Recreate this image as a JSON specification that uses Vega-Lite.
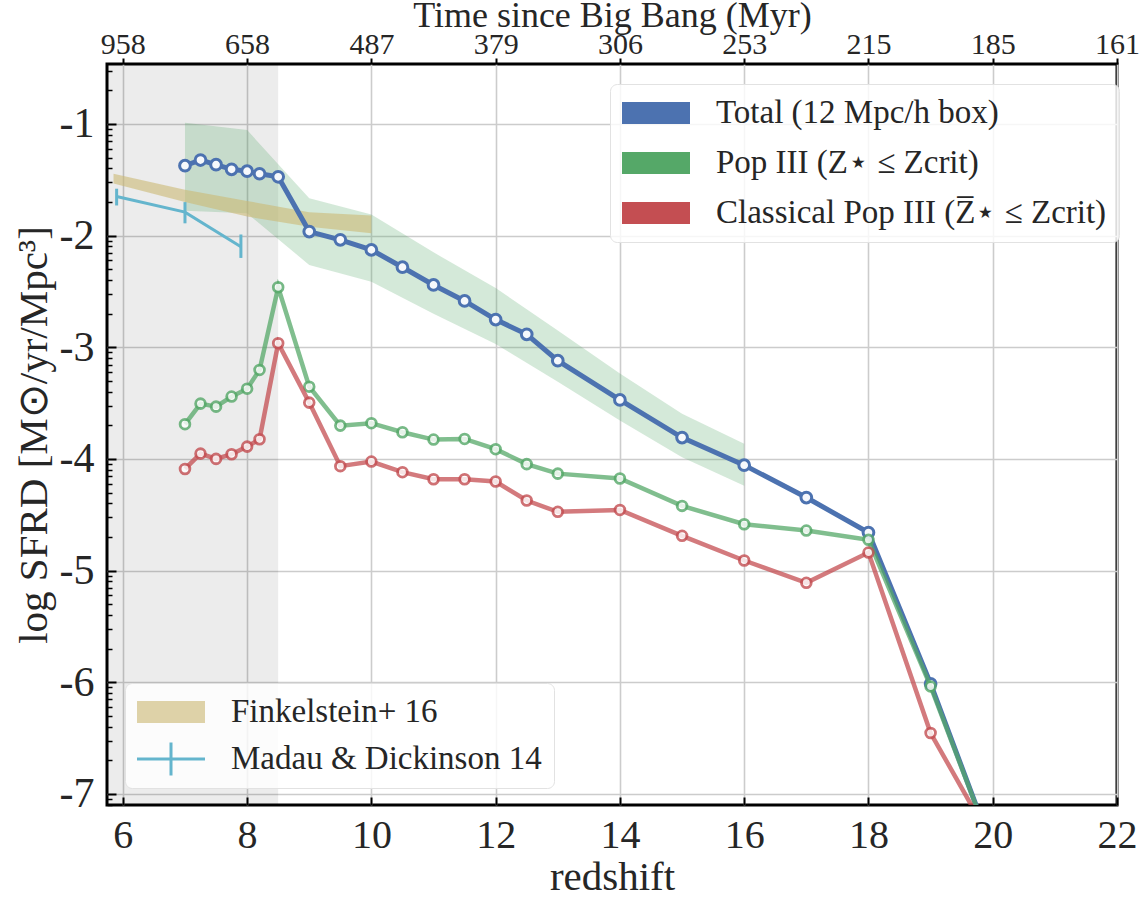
{
  "$schema": "https://vega.github.io/schema/vega-lite/v6.json",
  "width": 1010,
  "height": 741,
  "autosize": {"type": "none"},
  "padding": {"left": 107, "top": 64, "right": 29, "bottom": 94},
  "background": "white",
  "config": {
    "font": "Liberation Serif",
    "view": {"stroke": "#000000", "strokeWidth": 3},
    "style": {"guide-label": {"font": "Liberation Serif"}, "guide-title": {"font": "Liberation Serif"}},
    "axis": {
      "labelFont": "Liberation Serif",
      "titleFont": "Liberation Serif",
      "labelColor": "#262626",
      "titleColor": "#262626",
      "titleFontWeight": "normal",
      "gridColor": "#cccccc",
      "gridWidth": 1.6,
      "domain": false,
      "tickColor": "#000000",
      "tickWidth": 2,
      "labelFlush": false,
      "labelOverlap": false
    },
    "legend": {
      "labelFont": "Liberation Serif",
      "labelFontSize": 33,
      "labelColor": "#262626",
      "fillColor": "rgba(255,255,255,0.82)",
      "strokeColor": "#e2e2e2",
      "cornerRadius": 7,
      "padding": 12,
      "symbolOpacity": 1,
      "symbolStrokeWidth": 0,
      "labelLimit": 600
    }
  },
  "datasets": {
    "shade": [{"start": 5.5, "end": 8.5}],
    "band": [
      {"z": 7, "lo": -1.777, "hi": -0.989},
      {"z": 8, "lo": -1.80, "hi": -1.055},
      {"z": 9, "lo": -2.263, "hi": -1.666},
      {"z": 10, "lo": -2.413, "hi": -1.81},
      {"z": 11, "lo": -2.70, "hi": -2.15},
      {"z": 12, "lo": -2.97, "hi": -2.47},
      {"z": 13, "lo": -3.31, "hi": -2.85},
      {"z": 14, "lo": -3.655, "hi": -3.235},
      {"z": 15, "lo": -3.986, "hi": -3.595},
      {"z": 16, "lo": -4.24, "hi": -3.865}
    ],
    "obs": [
      {"obs": "Finkelstein+ 16", "z": 5.85, "lo": -1.534, "hi": -1.445, "sfrd": null},
      {"obs": "Finkelstein+ 16", "z": 7, "lo": -1.70, "hi": -1.59, "sfrd": null},
      {"obs": "Finkelstein+ 16", "z": 8, "lo": -1.83, "hi": -1.69, "sfrd": null},
      {"obs": "Finkelstein+ 16", "z": 9, "lo": -1.92, "hi": -1.79, "sfrd": null},
      {"obs": "Finkelstein+ 16", "z": 10, "lo": -1.98, "hi": -1.82, "sfrd": null},
      {"obs": "Madau & Dickinson 14", "z": 5.9, "lo": -1.73, "hi": -1.58, "sfrd": -1.65},
      {"obs": "Madau & Dickinson 14", "z": 7.0, "lo": -1.89, "hi": -1.70, "sfrd": -1.79},
      {"obs": "Madau & Dickinson 14", "z": 7.9, "lo": -2.20, "hi": -1.99, "sfrd": -2.10}
    ],
    "sims": [
      {"series": "Total (12 Mpc/h box)", "z": 7, "sfrd": -1.374},
      {"series": "Total (12 Mpc/h box)", "z": 7.25, "sfrd": -1.323},
      {"series": "Total (12 Mpc/h box)", "z": 7.5, "sfrd": -1.365},
      {"series": "Total (12 Mpc/h box)", "z": 7.75, "sfrd": -1.406},
      {"series": "Total (12 Mpc/h box)", "z": 8, "sfrd": -1.423},
      {"series": "Total (12 Mpc/h box)", "z": 8.2, "sfrd": -1.446},
      {"series": "Total (12 Mpc/h box)", "z": 8.5, "sfrd": -1.473},
      {"series": "Total (12 Mpc/h box)", "z": 9, "sfrd": -1.964},
      {"series": "Total (12 Mpc/h box)", "z": 9.5, "sfrd": -2.038},
      {"series": "Total (12 Mpc/h box)", "z": 10, "sfrd": -2.128},
      {"series": "Total (12 Mpc/h box)", "z": 10.5, "sfrd": -2.283},
      {"series": "Total (12 Mpc/h box)", "z": 11, "sfrd": -2.442},
      {"series": "Total (12 Mpc/h box)", "z": 11.5, "sfrd": -2.585},
      {"series": "Total (12 Mpc/h box)", "z": 12, "sfrd": -2.752},
      {"series": "Total (12 Mpc/h box)", "z": 12.5, "sfrd": -2.884},
      {"series": "Total (12 Mpc/h box)", "z": 13, "sfrd": -3.12},
      {"series": "Total (12 Mpc/h box)", "z": 14, "sfrd": -3.472},
      {"series": "Total (12 Mpc/h box)", "z": 15, "sfrd": -3.809},
      {"series": "Total (12 Mpc/h box)", "z": 16, "sfrd": -4.056},
      {"series": "Total (12 Mpc/h box)", "z": 17, "sfrd": -4.346},
      {"series": "Total (12 Mpc/h box)", "z": 18, "sfrd": -4.66},
      {"series": "Total (12 Mpc/h box)", "z": 19, "sfrd": -6.014},
      {"series": "Total (12 Mpc/h box)", "z": 20, "sfrd": -7.5},
      {"series": "Pop III (Z⋆ ≤ Zcrit)", "z": 7, "sfrd": -3.689},
      {"series": "Pop III (Z⋆ ≤ Zcrit)", "z": 7.25, "sfrd": -3.505},
      {"series": "Pop III (Z⋆ ≤ Zcrit)", "z": 7.5, "sfrd": -3.532},
      {"series": "Pop III (Z⋆ ≤ Zcrit)", "z": 7.75, "sfrd": -3.442},
      {"series": "Pop III (Z⋆ ≤ Zcrit)", "z": 8, "sfrd": -3.371},
      {"series": "Pop III (Z⋆ ≤ Zcrit)", "z": 8.2, "sfrd": -3.203},
      {"series": "Pop III (Z⋆ ≤ Zcrit)", "z": 8.5, "sfrd": -2.463},
      {"series": "Pop III (Z⋆ ≤ Zcrit)", "z": 9, "sfrd": -3.353},
      {"series": "Pop III (Z⋆ ≤ Zcrit)", "z": 9.5, "sfrd": -3.702},
      {"series": "Pop III (Z⋆ ≤ Zcrit)", "z": 10, "sfrd": -3.68},
      {"series": "Pop III (Z⋆ ≤ Zcrit)", "z": 10.5, "sfrd": -3.761},
      {"series": "Pop III (Z⋆ ≤ Zcrit)", "z": 11, "sfrd": -3.827},
      {"series": "Pop III (Z⋆ ≤ Zcrit)", "z": 11.5, "sfrd": -3.821},
      {"series": "Pop III (Z⋆ ≤ Zcrit)", "z": 12, "sfrd": -3.913},
      {"series": "Pop III (Z⋆ ≤ Zcrit)", "z": 12.5, "sfrd": -4.047},
      {"series": "Pop III (Z⋆ ≤ Zcrit)", "z": 13, "sfrd": -4.132},
      {"series": "Pop III (Z⋆ ≤ Zcrit)", "z": 14, "sfrd": -4.176},
      {"series": "Pop III (Z⋆ ≤ Zcrit)", "z": 15, "sfrd": -4.421},
      {"series": "Pop III (Z⋆ ≤ Zcrit)", "z": 16, "sfrd": -4.585},
      {"series": "Pop III (Z⋆ ≤ Zcrit)", "z": 17, "sfrd": -4.642},
      {"series": "Pop III (Z⋆ ≤ Zcrit)", "z": 18, "sfrd": -4.725},
      {"series": "Pop III (Z⋆ ≤ Zcrit)", "z": 19, "sfrd": -6.038},
      {"series": "Pop III (Z⋆ ≤ Zcrit)", "z": 20, "sfrd": -7.5},
      {"series": "Classical Pop III (Z̅⋆ ≤ Zcrit)", "z": 7, "sfrd": -4.09},
      {"series": "Classical Pop III (Z̅⋆ ≤ Zcrit)", "z": 7.25, "sfrd": -3.953},
      {"series": "Classical Pop III (Z̅⋆ ≤ Zcrit)", "z": 7.5, "sfrd": -4.0},
      {"series": "Classical Pop III (Z̅⋆ ≤ Zcrit)", "z": 7.75, "sfrd": -3.958},
      {"series": "Classical Pop III (Z̅⋆ ≤ Zcrit)", "z": 8, "sfrd": -3.89},
      {"series": "Classical Pop III (Z̅⋆ ≤ Zcrit)", "z": 8.2, "sfrd": -3.824},
      {"series": "Classical Pop III (Z̅⋆ ≤ Zcrit)", "z": 8.5, "sfrd": -2.964},
      {"series": "Classical Pop III (Z̅⋆ ≤ Zcrit)", "z": 9, "sfrd": -3.496},
      {"series": "Classical Pop III (Z̅⋆ ≤ Zcrit)", "z": 9.5, "sfrd": -4.065},
      {"series": "Classical Pop III (Z̅⋆ ≤ Zcrit)", "z": 10, "sfrd": -4.024},
      {"series": "Classical Pop III (Z̅⋆ ≤ Zcrit)", "z": 10.5, "sfrd": -4.119},
      {"series": "Classical Pop III (Z̅⋆ ≤ Zcrit)", "z": 11, "sfrd": -4.182},
      {"series": "Classical Pop III (Z̅⋆ ≤ Zcrit)", "z": 11.5, "sfrd": -4.182},
      {"series": "Classical Pop III (Z̅⋆ ≤ Zcrit)", "z": 12, "sfrd": -4.203},
      {"series": "Classical Pop III (Z̅⋆ ≤ Zcrit)", "z": 12.5, "sfrd": -4.373},
      {"series": "Classical Pop III (Z̅⋆ ≤ Zcrit)", "z": 13, "sfrd": -4.474},
      {"series": "Classical Pop III (Z̅⋆ ≤ Zcrit)", "z": 14, "sfrd": -4.457},
      {"series": "Classical Pop III (Z̅⋆ ≤ Zcrit)", "z": 15, "sfrd": -4.689},
      {"series": "Classical Pop III (Z̅⋆ ≤ Zcrit)", "z": 16, "sfrd": -4.91},
      {"series": "Classical Pop III (Z̅⋆ ≤ Zcrit)", "z": 17, "sfrd": -5.11},
      {"series": "Classical Pop III (Z̅⋆ ≤ Zcrit)", "z": 18, "sfrd": -4.839},
      {"series": "Classical Pop III (Z̅⋆ ≤ Zcrit)", "z": 19, "sfrd": -6.455},
      {"series": "Classical Pop III (Z̅⋆ ≤ Zcrit)", "z": 20, "sfrd": -7.44}
    ]
  },
  "resolve": {"axis": {"x": "independent", "y": "independent"}},
  "layer": [
    {
      "data": {"name": "shade"},
      "mark": {"type": "rect", "color": "#000000", "opacity": 0.075, "clip": true},
      "encoding": {
        "x": {
          "field": "start", "type": "quantitative",
          "scale": {"domain": [5.745, 22], "nice": false, "zero": false},
          "axis": {
            "orient": "bottom", "values": [6, 8, 10, 12, 14, 16, 18, 20, 22],
            "labelFont": "Liberation Serif", "titleFont": "Liberation Serif",
            "title": "redshift", "titleFontSize": 41, "labelFontSize": 40,
            "tickSize": -8, "labelPadding": 18, "titlePadding": 2, "grid": true
          }
        },
        "x2": {"field": "end"}
      }
    },
    {
      "data": {"name": "band"},
      "mark": {"type": "area", "color": "#55a868", "opacity": 0.25, "clip": true},
      "encoding": {
        "x": {"field": "z", "type": "quantitative", "axis": null},
        "y": {
          "field": "lo", "type": "quantitative",
          "scale": {"domain": [-7.1, -0.463], "nice": false, "zero": false},
          "axis": {
            "orient": "left", "values": [-7, -6, -5, -4, -3, -2, -1],
            "labelExpr": "'-' + abs(datum.value)",
            "labelFont": "Liberation Serif", "titleFont": "Liberation Serif",
            "title": "log SFRD [M⊙/yr/Mpc³]", "titleFontSize": 41, "labelFontSize": 42,
            "tickSize": -9, "labelPadding": 22, "titlePadding": 4, "grid": true
          }
        },
        "y2": {"field": "hi"}
      }
    },
    {
      "data": {"name": "obs"},
      "transform": [{"filter": "datum.obs == 'Finkelstein+ 16'"}],
      "mark": {"type": "area", "color": "#ccb974", "opacity": 0.6, "clip": true},
      "encoding": {
        "x": {"field": "z", "type": "quantitative", "axis": null},
        "y": {"field": "lo", "type": "quantitative", "axis": null},
        "y2": {"field": "hi"}
      }
    },
    {
      "data": {"name": "obs"},
      "transform": [{"filter": "datum.obs == 'Madau & Dickinson 14'"}],
      "mark": {"type": "line", "color": "#64b5cd", "strokeWidth": 3, "clip": true},
      "encoding": {
        "x": {"field": "z", "type": "quantitative", "axis": null},
        "y": {"field": "sfrd", "type": "quantitative", "axis": null}
      }
    },
    {
      "data": {"name": "obs"},
      "transform": [{"filter": "datum.obs == 'Madau & Dickinson 14'"}],
      "mark": {"type": "rule", "color": "#64b5cd", "strokeWidth": 3, "clip": true},
      "encoding": {
        "x": {"field": "z", "type": "quantitative", "axis": null},
        "y": {"field": "lo", "type": "quantitative", "axis": null},
        "y2": {"field": "hi"}
      }
    },
    {
      "data": {"name": "sims"},
      "transform": [{"filter": "datum.series == 'Total (12 Mpc/h box)'"}],
      "mark": {"type": "line", "color": "#4c72b0", "strokeWidth": 5, "clip": true},
      "encoding": {
        "x": {
          "field": "z", "type": "quantitative",
          "axis": {
            "orient": "top", "values": [6, 8, 10, 12, 14, 16, 18, 20, 22],
            "labelExpr": "datum.value == 6 ? '958' : datum.value == 8 ? '658' : datum.value == 10 ? '487' : datum.value == 12 ? '379' : datum.value == 14 ? '306' : datum.value == 16 ? '253' : datum.value == 18 ? '215' : datum.value == 20 ? '185' : '161'",
            "labelFont": "Liberation Serif", "titleFont": "Liberation Serif",
            "title": "Time since Big Bang (Myr)", "titleFontSize": 36, "labelFontSize": 30,
            "tickSize": 6, "labelPadding": -1, "titlePadding": -5, "grid": false
          }
        },
        "y": {
          "field": "sfrd", "type": "quantitative",
          "axis": {
            "orient": "left",
            "values": [-0.69897, -0.52288, -1.69897, -1.52288, -1.39794, -1.30103, -1.22185, -1.1549, -1.09691, -1.04576, -2.69897, -2.52288, -2.39794, -2.30103, -2.22185, -2.1549, -2.09691, -2.04576, -3.69897, -3.52288, -3.39794, -3.30103, -3.22185, -3.1549, -3.09691, -3.04576, -4.69897, -4.52288, -4.39794, -4.30103, -4.22185, -4.1549, -4.09691, -4.04576, -5.69897, -5.52288, -5.39794, -5.30103, -5.22185, -5.1549, -5.09691, -5.04576, -6.69897, -6.52288, -6.39794, -6.30103, -6.22185, -6.1549, -6.09691, -6.04576, -7.09691, -7.04576],
            "labels": false, "title": null, "grid": false, "tickSize": -5, "tickWidth": 1.5
          }
        }
      }
    },
    {
      "data": {"name": "sims"},
      "transform": [{"filter": "datum.series == 'Total (12 Mpc/h box)'"}],
      "mark": {"type": "point", "shape": "circle", "filled": true, "fill": "#f6f8fc", "stroke": "#4c72b0", "strokeWidth": 3, "size": 115, "opacity": 1, "clip": true},
      "encoding": {
        "x": {"field": "z", "type": "quantitative", "axis": null},
        "y": {"field": "sfrd", "type": "quantitative", "axis": null}
      }
    },
    {
      "data": {"name": "sims"},
      "transform": [{"filter": "datum.series == 'Pop III (Z⋆ ≤ Zcrit)'"}],
      "mark": {"type": "line", "color": "#55a868", "strokeWidth": 4.5, "opacity": 0.75, "clip": true},
      "encoding": {
        "x": {"field": "z", "type": "quantitative", "axis": null},
        "y": {"field": "sfrd", "type": "quantitative", "axis": null}
      }
    },
    {
      "data": {"name": "sims"},
      "transform": [{"filter": "datum.series == 'Pop III (Z⋆ ≤ Zcrit)'"}],
      "mark": {"type": "point", "shape": "circle", "filled": true, "fill": "#ffffff", "stroke": "#55a868", "strokeWidth": 2.8, "size": 95, "opacity": 0.8, "clip": true},
      "encoding": {
        "x": {"field": "z", "type": "quantitative", "axis": null},
        "y": {"field": "sfrd", "type": "quantitative", "axis": null}
      }
    },
    {
      "data": {"name": "sims"},
      "transform": [{"filter": "datum.series == 'Classical Pop III (Z̅⋆ ≤ Zcrit)'"}],
      "mark": {"type": "line", "color": "#c44e52", "strokeWidth": 4.5, "opacity": 0.75, "clip": true},
      "encoding": {
        "x": {"field": "z", "type": "quantitative", "axis": null},
        "y": {"field": "sfrd", "type": "quantitative", "axis": null}
      }
    },
    {
      "data": {"name": "sims"},
      "transform": [{"filter": "datum.series == 'Classical Pop III (Z̅⋆ ≤ Zcrit)'"}],
      "mark": {"type": "point", "shape": "circle", "filled": true, "fill": "#ffffff", "stroke": "#c44e52", "strokeWidth": 2.8, "size": 95, "opacity": 0.8, "clip": true},
      "encoding": {
        "x": {"field": "z", "type": "quantitative", "axis": null},
        "y": {"field": "sfrd", "type": "quantitative", "axis": null}
      }
    },
    {
      "data": {"name": "sims"},
      "mark": {"type": "point", "filled": true, "opacity": 0, "size": 1156, "shape": "M-1,-0.65H3V0.65H-1Z", "clip": true},
      "encoding": {
        "x": {"field": "z", "type": "quantitative", "axis": null},
        "y": {"field": "sfrd", "type": "quantitative", "axis": null},
        "fill": {
          "field": "series", "type": "nominal",
          "scale": {
            "domain": ["Total (12 Mpc/h box)", "Pop III (Z⋆ ≤ Zcrit)", "Classical Pop III (Z̅⋆ ≤ Zcrit)"],
            "range": ["#4c72b0", "#55a868", "#c44e52"]
          },
          "legend": {
            "title": null, "orient": "none", "legendX": 503, "legendY": 20,
            "symbolType": "M-1,-0.65H3V0.65H-1Z", "symbolSize": 1156,
            "labelFont": "Liberation Serif",
            "labelOffset": 60, "rowPadding": 16
          }
        }
      }
    },
    {
      "data": {"name": "obs"},
      "mark": {"type": "point", "filled": true, "opacity": 0, "size": 1156, "clip": true},
      "encoding": {
        "x": {"field": "z", "type": "quantitative", "axis": null},
        "y": {"field": "hi", "type": "quantitative", "axis": null},
        "color": {
          "field": "obs", "type": "nominal",
          "scale": {"domain": ["Finkelstein+ 16", "Madau & Dickinson 14"], "range": ["#ded2a8", "#64b5cd"]},
          "legend": {
            "title": null, "orient": "none", "legendX": 18, "legendY": 619,
            "labelFont": "Liberation Serif",
            "symbolSize": 1156, "labelOffset": 60, "rowPadding": 13
          }
        },
        "shape": {
          "field": "obs", "type": "nominal",
          "scale": {"domain": ["Finkelstein+ 16", "Madau & Dickinson 14"], "range": ["M-1,-0.65H3V0.65H-1Z", "M-1,-0.088H3V0.088H-1Z M0.912,-0.97H1.088V0.97H0.912Z"]},
          "legend": {
            "title": null, "orient": "none", "legendX": 18, "legendY": 619,
            "labelFont": "Liberation Serif",
            "symbolSize": 1156, "labelOffset": 60, "rowPadding": 13
          }
        }
      }
    }
  ]
}
